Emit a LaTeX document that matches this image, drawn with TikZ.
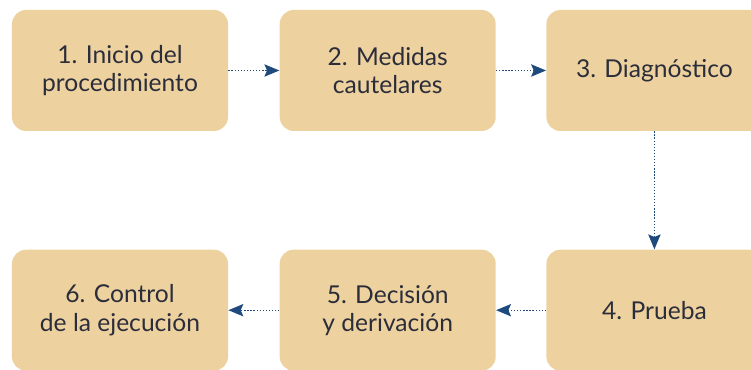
\documentclass[tikz,border=0pt]{standalone}
\usepackage{fontspec}
\setmainfont{Lato}
\usetikzlibrary{positioning,arrows.meta}
\definecolor{boxfill}{HTML}{EDD29F}
\definecolor{boxtext}{HTML}{2C2D3A}
\definecolor{arrowblue}{HTML}{1F4A7C}
\begin{document}
\begin{tikzpicture}[
        stage/.style={fill=boxfill, rounded corners=0.28cm, minimum width=4.32cm,
            minimum height=2.42cm, align=center, text=boxtext,
            font=\fontsize{14}{16}\selectfont},
        flow/.style={arrowblue, densely dotted, line width=0.75pt,
            -{Stealth[length=8.5pt,width=7pt,inset=1.5pt]}}
    ]
        \useasboundingbox (0, 0) rectangle (15.02, 7.4);

        \node[stage] (inicio) at (2.40, 5.99) {1. Inicio del\\procedimiento};
        \node[stage, right=1.02cm of inicio] (medidas) {2. Medidas\\cautelares};
        \node[stage, right=1.0cm of medidas] (diag) {3. Diagnóstico};

        \node[stage, below=2.36cm of diag] (prueba) {4. Prueba};
        \node[stage, below=2.36cm of medidas] (decision) {5. Decisión\\y derivación};
        \node[stage, below=2.36cm of inicio] (control) {6. Control\\de la ejecución};

        \draw[flow] (inicio) -- (medidas);
        \draw[flow] (medidas) -- (diag);
        \draw[flow] (diag) -- (prueba);
        \draw[flow] (prueba) -- (decision);
        \draw[flow] (decision) -- (control);

    \end{tikzpicture}
\end{document}
